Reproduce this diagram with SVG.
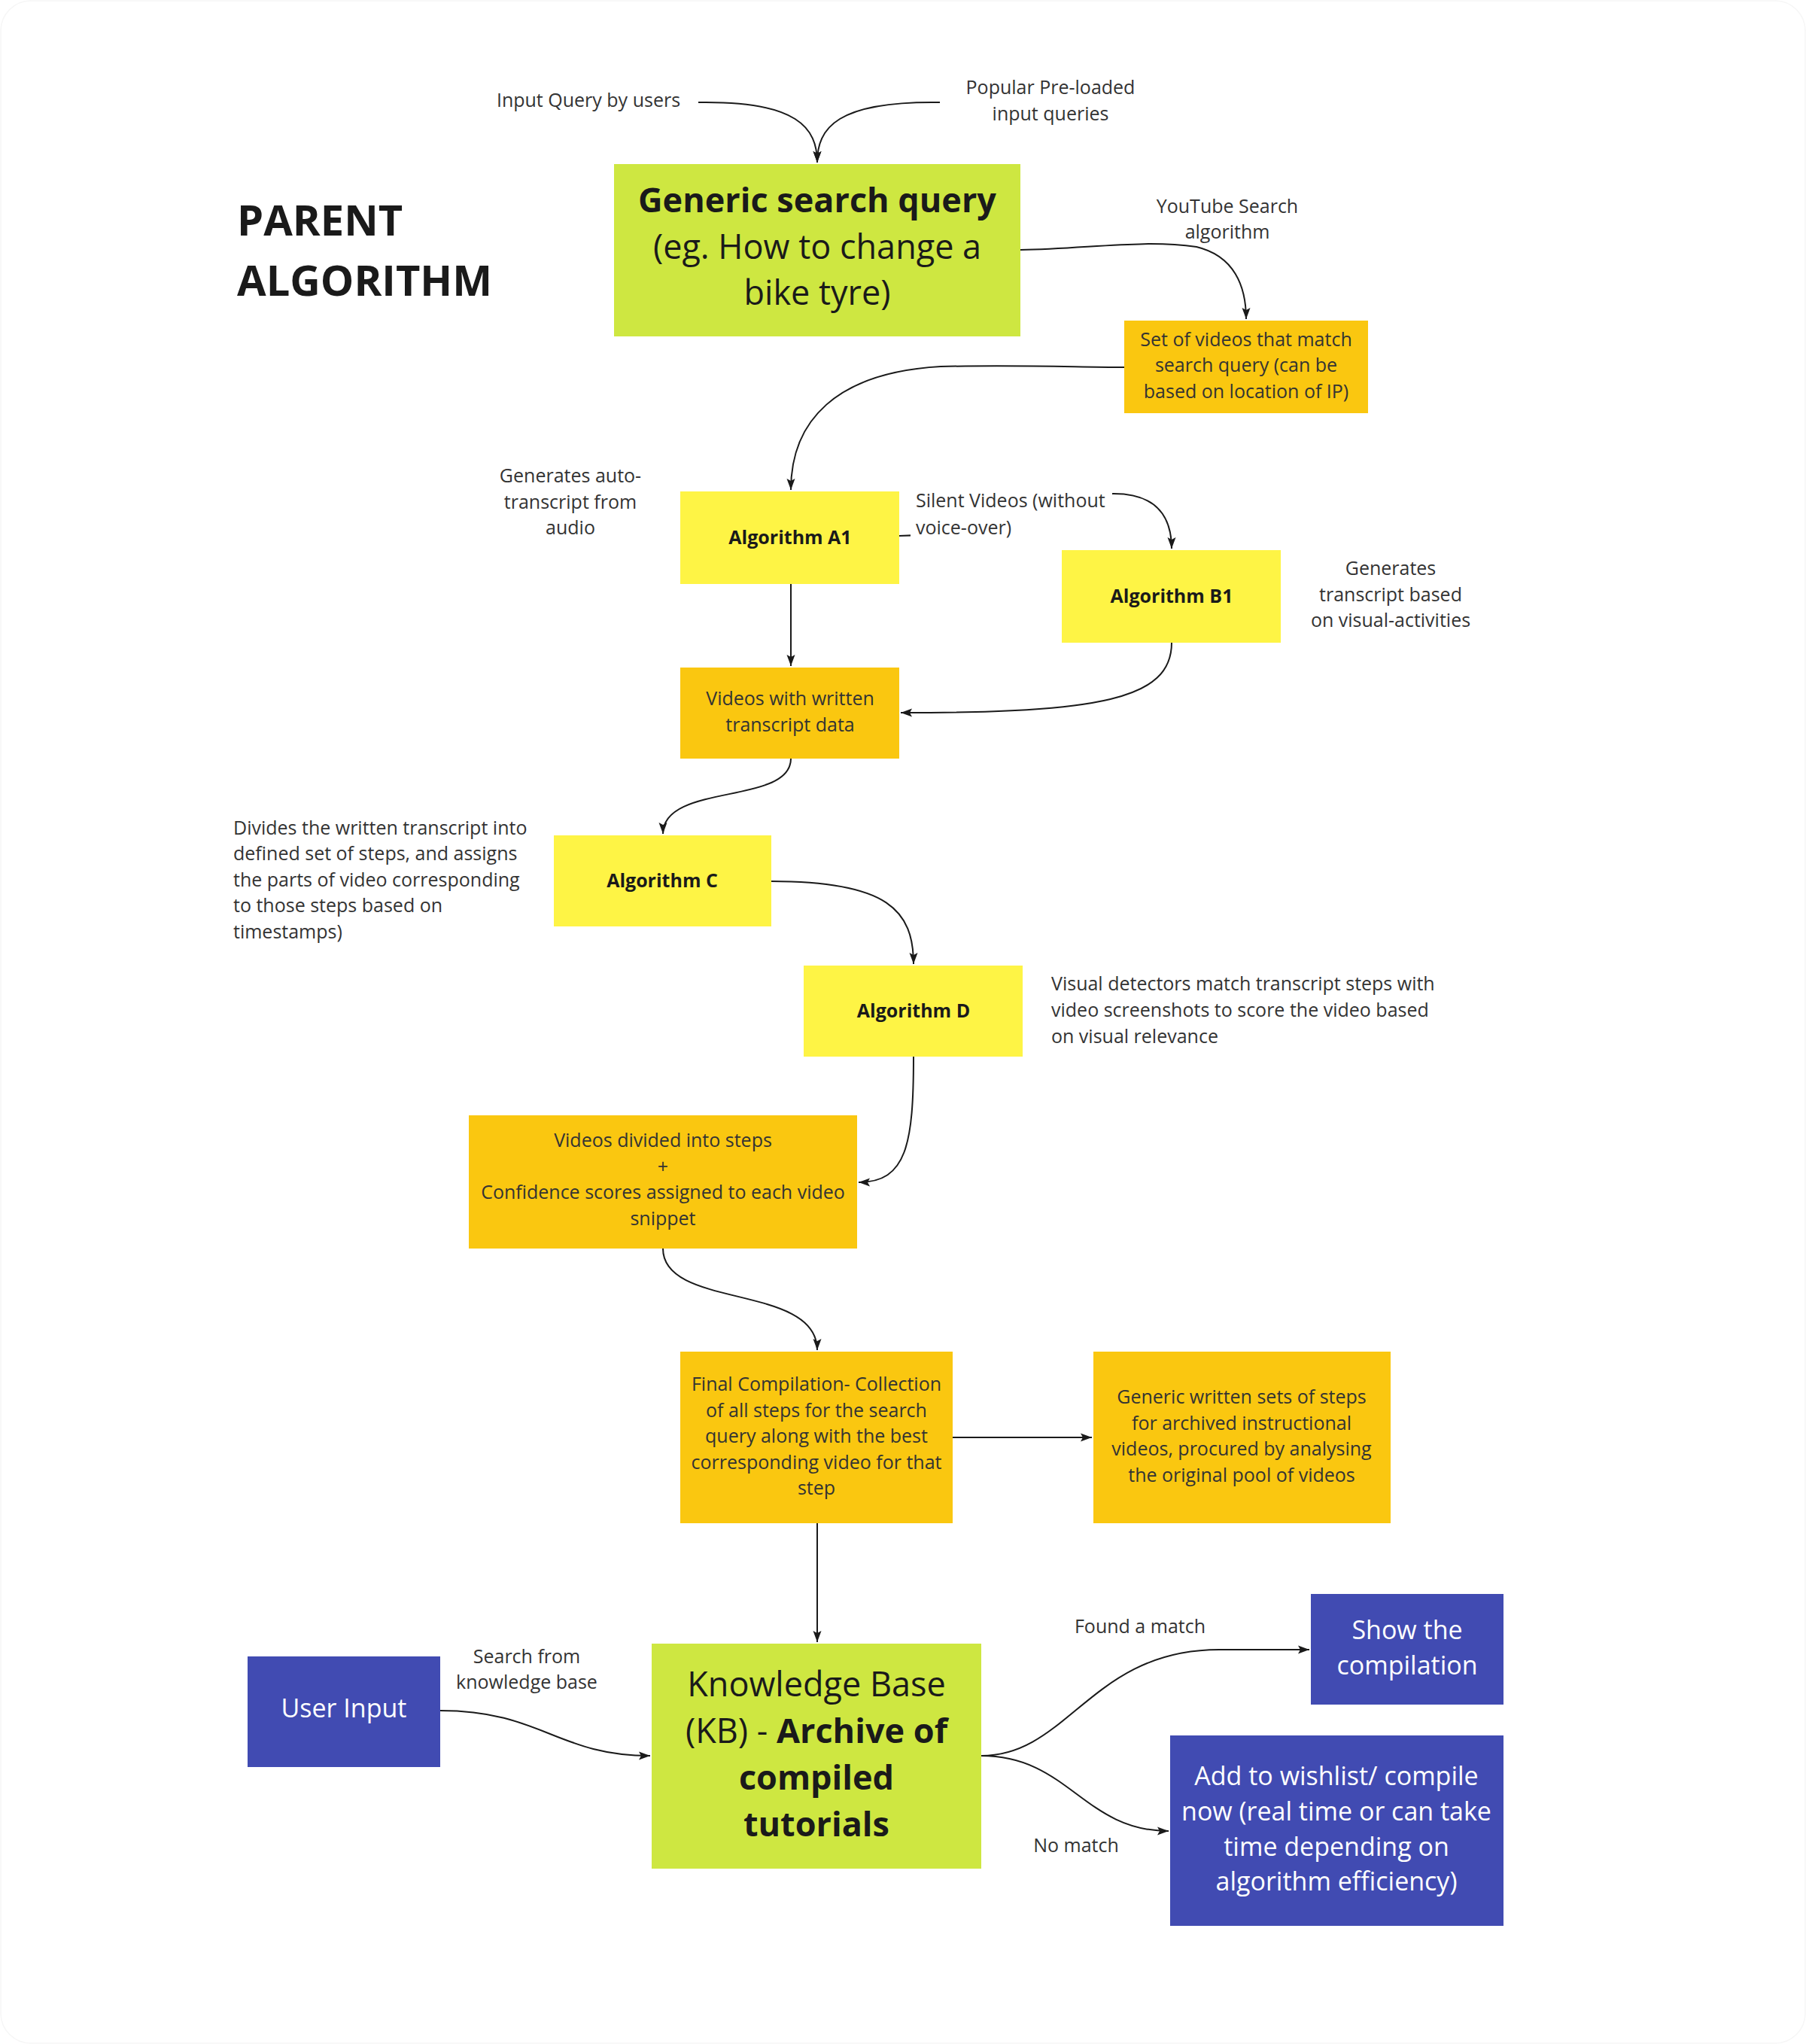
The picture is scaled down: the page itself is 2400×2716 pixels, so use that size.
<svg xmlns="http://www.w3.org/2000/svg" width="2400" height="2716" viewBox="0 0 2400 2716">
<defs>
<marker id="arr" markerUnits="userSpaceOnUse" markerWidth="16" markerHeight="12" refX="15" refY="6" orient="auto">
<path d="M0,0.5 L15,6 L0,11.5 L3,6 z" fill="#1a1a1a"/>
</marker>
<style>
text{font-family:"Open Sans","Noto Sans","Liberation Sans",sans-serif;fill:#1a1a1a}
.s{font-size:25px;fill:#333333}
.c{text-anchor:middle}
.b{font-weight:700}
.big{font-size:45px}
.w{fill:#ffffff;font-size:34px}
.g{fill:#cee741}
.y{fill:#fef445}
.o{fill:#fac710}
.bl{fill:#414bb2}
.ln{fill:none;stroke:#1a1a1a;stroke-width:2;marker-end:url(#arr)}
</style>
</defs>
<rect x="1" y="1" width="2398" height="2714" rx="40" fill="#ffffff" stroke="#f6f6f6" stroke-width="1.5"/>

<g id="title">
<text x="315" y="313" class="b" style="font-size:56px;fill:#1a1a1a">PARENT</text>
<text x="315" y="393" class="b" style="font-size:56px;fill:#1a1a1a">ALGORITHM</text>
</g>

<g id="connectors">
<path class="ln" d="M928,136 C1060,134 1086,170 1086,216"/>
<path class="ln" d="M1249,136 C1112,134 1086,170 1086,216"/>
<path class="ln" d="M1356,332 C1450,330 1520,318 1590,328 C1640,340 1656,380 1656,424"/>
<path class="ln" d="M1494,488 C1400,487 1340,485 1250,487 C1110,495 1051,560 1051,651"/>
<path class="ln" d="M1195,712 C1300,712 1380,656 1480,656 C1540,656 1557,690 1557,729"/>
<path class="ln" d="M1051,776 L1051,885"/>
<path class="ln" d="M1557,854 C1557,930 1460,947 1197,947"/>
<path class="ln" d="M1051,1008 C1051,1070 881,1040 881,1108"/>
<path class="ln" d="M1025,1171 C1180,1171 1214,1210 1214,1281"/>
<path class="ln" d="M1214,1404 C1214,1520 1205,1571 1141,1571"/>
<path class="ln" d="M881,1659 C881,1740 1086,1705 1086,1794"/>
<path class="ln" d="M1266,1910 L1451,1910"/>
<path class="ln" d="M1086,2024 L1086,2182"/>
<path class="ln" d="M585,2273 C720,2273 740,2333 864,2333"/>
<path class="ln" d="M1304,2333 C1420,2333 1450,2192 1620,2192 L1740,2192"/>
<path class="ln" d="M1304,2333 C1420,2333 1440,2433 1553,2433"/>
</g>

<g id="lbl-input-query"><text x="782" y="142" class="s c">Input Query by users</text></g>
<g id="lbl-popular"><text x="1396" y="125" class="s c">Popular Pre-loaded</text><text x="1396" y="160" class="s c">input queries</text></g>
<g id="lbl-youtube"><text x="1631" y="283" class="s c">YouTube Search</text><text x="1631" y="317" class="s c">algorithm</text></g>

<g id="generic-query">
<rect x="816" y="218" width="540" height="229" class="g"/>
<text x="1086" y="282" class="big c b">Generic search query</text>
<text x="1086" y="344" class="big c">(eg. How to change a</text>
<text x="1086" y="405" class="big c">bike tyre)</text>
</g>

<g id="set-of-videos">
<rect x="1494" y="426" width="324" height="123" class="o"/>
<text x="1656" y="460" class="s c">Set of videos that match</text>
<text x="1656" y="494" class="s c">search query (can be</text>
<text x="1656" y="529" class="s c">based on location of IP)</text>
</g>

<g id="lbl-auto"><text x="758" y="641" class="s c">Generates auto-</text><text x="758" y="676" class="s c">transcript from</text><text x="758" y="710" class="s c">audio</text></g>

<g id="algo-a1">
<rect x="904" y="653" width="291" height="123" class="y"/>
<text x="1050" y="723" class="s c b" style="fill:#1a1a1a">Algorithm A1</text>
</g>

<g id="lbl-silent">
<rect x="1210" y="640" width="268" height="82" fill="#ffffff"/>
<text x="1217" y="674" class="s">Silent Videos (without</text>
<text x="1217" y="710" class="s">voice-over)</text>
</g>

<g id="algo-b1">
<rect x="1411" y="731" width="291" height="123" class="y"/>
<text x="1557" y="801" class="s c b" style="fill:#1a1a1a">Algorithm B1</text>
</g>

<g id="lbl-visual-act"><text x="1848" y="764" class="s c">Generates</text><text x="1848" y="799" class="s c">transcript based</text><text x="1848" y="833" class="s c">on visual-activities</text></g>

<g id="videos-transcript">
<rect x="904" y="887" width="291" height="121" class="o"/>
<text x="1050" y="937" class="s c">Videos with written</text>
<text x="1050" y="972" class="s c">transcript data</text>
</g>

<g id="lbl-divides">
<text x="310" y="1109" class="s">Divides the written transcript into</text>
<text x="310" y="1143" class="s">defined set of steps, and assigns</text>
<text x="310" y="1178" class="s">the parts of video corresponding</text>
<text x="310" y="1212" class="s">to those steps based on</text>
<text x="310" y="1247" class="s">timestamps)</text>
</g>

<g id="algo-c">
<rect x="736" y="1110" width="289" height="121" class="y"/>
<text x="880" y="1179" class="s c b" style="fill:#1a1a1a">Algorithm C</text>
</g>

<g id="algo-d">
<rect x="1068" y="1283" width="291" height="121" class="y"/>
<text x="1214" y="1352" class="s c b" style="fill:#1a1a1a">Algorithm D</text>
</g>

<g id="lbl-visual-det">
<text x="1397" y="1316" class="s">Visual detectors match transcript steps with</text>
<text x="1397" y="1351" class="s">video screenshots to score the video based</text>
<text x="1397" y="1386" class="s">on visual relevance</text>
</g>

<g id="videos-steps">
<rect x="623" y="1482" width="516" height="177" class="o"/>
<text x="881" y="1524" class="s c">Videos divided into steps</text>
<text x="881" y="1559" class="s c">+</text>
<text x="881" y="1593" class="s c">Confidence scores assigned to each video</text>
<text x="881" y="1628" class="s c">snippet</text>
</g>

<g id="final-compilation">
<rect x="904" y="1796" width="362" height="228" class="o"/>
<text x="1085" y="1848" class="s c">Final Compilation- Collection</text>
<text x="1085" y="1883" class="s c">of all steps for the search</text>
<text x="1085" y="1917" class="s c">query along with the best</text>
<text x="1085" y="1952" class="s c">corresponding video for that</text>
<text x="1085" y="1986" class="s c">step</text>
</g>

<g id="generic-written">
<rect x="1453" y="1796" width="395" height="228" class="o"/>
<text x="1650" y="1865" class="s c">Generic written sets of steps</text>
<text x="1650" y="1900" class="s c">for archived instructional</text>
<text x="1650" y="1934" class="s c">videos, procured by analysing</text>
<text x="1650" y="1969" class="s c">the original pool of videos</text>
</g>

<g id="user-input">
<rect x="329" y="2201" width="256" height="147" class="bl"/>
<text x="457" y="2282" class="w c">User Input</text>
</g>

<g id="lbl-search"><text x="700" y="2210" class="s c">Search from</text><text x="700" y="2244" class="s c">knowledge base</text></g>

<g id="knowledge-base">
<rect x="866" y="2184" width="438" height="299" class="g"/>
<text x="1085" y="2254" class="big c">Knowledge Base</text>
<text x="1085" y="2316" class="big c">(KB) - <tspan class="b">Archive of</tspan></text>
<text x="1085" y="2378" class="big c b">compiled</text>
<text x="1085" y="2440" class="big c b">tutorials</text>
</g>

<g id="lbl-found"><text x="1515" y="2170" class="s c">Found a match</text></g>
<g id="lbl-nomatch"><text x="1430" y="2461" class="s c">No match</text></g>

<g id="show-compilation">
<rect x="1742" y="2118" width="256" height="147" class="bl"/>
<text x="1870" y="2178" class="w c">Show the</text>
<text x="1870" y="2225" class="w c">compilation</text>
</g>

<g id="add-wishlist">
<rect x="1555" y="2306" width="443" height="253" class="bl"/>
<text x="1776" y="2372" class="w c">Add to wishlist/ compile</text>
<text x="1776" y="2419" class="w c">now (real time or can take</text>
<text x="1776" y="2466" class="w c">time depending on</text>
<text x="1776" y="2512" class="w c">algorithm efficiency)</text>
</g>
</svg>
